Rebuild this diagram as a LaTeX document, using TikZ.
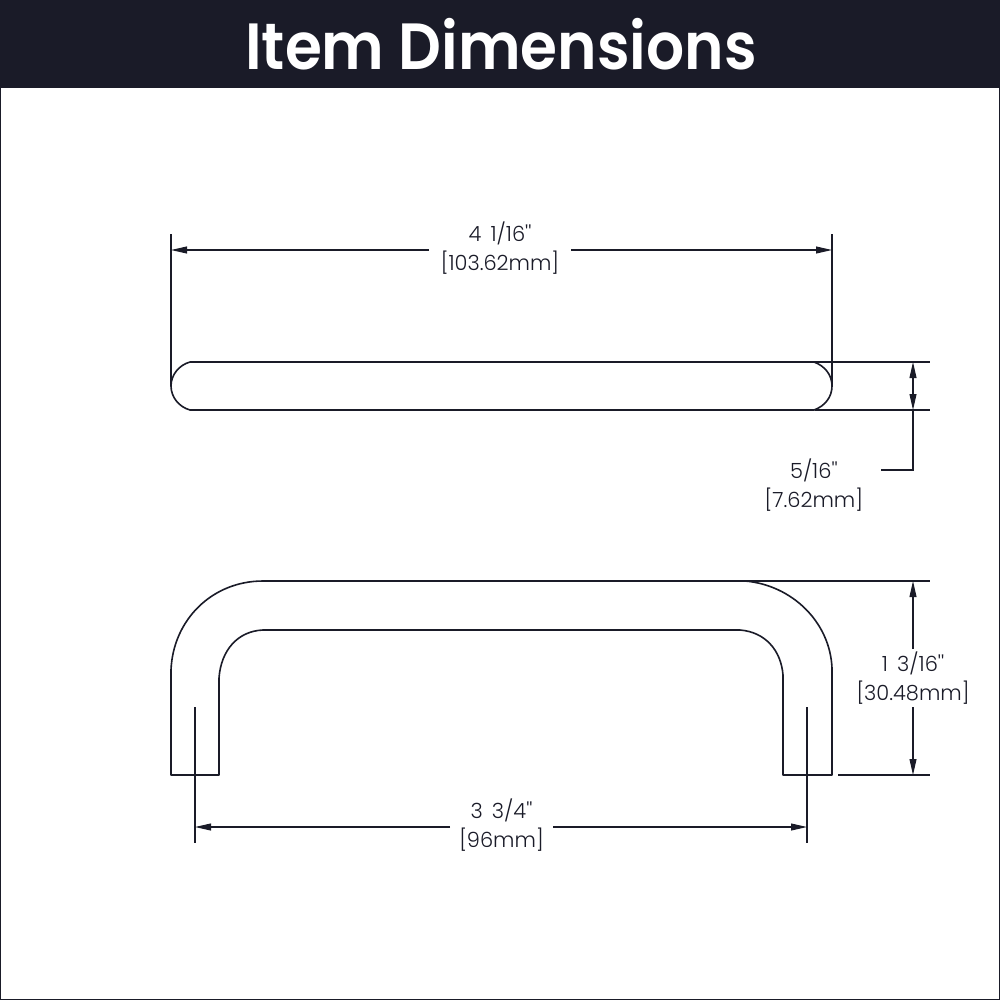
\documentclass[tikz,border=0pt]{standalone}
\usepackage{fontspec}
\newfontfamily\labfont[WordSpace=1.6]{Poppins Light}
\newfontfamily\titlefont{Poppins SemiBold}
\usetikzlibrary{arrows.meta}
\definecolor{ink}{HTML}{1A1B28}
\tikzset{
  part/.style={draw=ink,line width=1.2pt,line join=round},
  ext/.style={draw=ink,line width=0.8pt},
  dim/.style={draw=ink,line width=0.8pt,-{Triangle[length=12pt,width=5.2pt]}},
  lab/.style={align=center,text=ink,font=\labfont\fontsize{15.7}{22}\selectfont,inner sep=0pt,outer sep=0pt}
}
\begin{document}
\begin{tikzpicture}[x=0.75pt,y=-0.75pt]
\useasboundingbox (0,0) rectangle (1000,1000);
\fill[white] (0,0) rectangle (1000,1000);
\draw[ink,line width=0.9pt] (0.5,0.5) rectangle (999.5,999.5);
\fill[ink] (0,0) rectangle (1000,87.5);
\node[text=white,inner sep=0pt,xscale=0.915,font=\titlefont\fontsize{49}{55}\selectfont] (title) at (501,44) {Item Dimensions};
% top view
\draw[part] (190,362) -- (814,362) .. controls (825,366) and (832,375) .. (832,386) .. controls (832,397) and (825,406) .. (814,410) -- (190,410) .. controls (179,407) and (171,397) .. (171,386) .. controls (171,375) and (179,365) .. (190,362) -- cycle;
% front view
\draw[part] (171,775) -- (171,670) .. controls (173,620) and (212,581) .. (263,581) -- (745,581) .. controls (792,585) and (830,622) .. (832,668) -- (832,775) -- (783,775) -- (783,675) .. controls (781,650) and (765,632) .. (740,630) -- (263,630) .. controls (238,631) and (221,650) .. (219,678) -- (219,775) -- cycle;
% labels
\node[lab,minimum width=142*0.75pt] (l1) at (500,248) {4 1/16''\\{}[103.62mm]};
\node[lab,anchor=east] (l2) at (863,485) {5/16''\\{}[7.62mm]};
\node[lab,minimum height=58*0.75pt] (l3) at (913,678) {1 3/16''\\{}[30.48mm]};
\node[lab,minimum width=103*0.75pt] (l4) at (501.5,825) {3 3/4''\\{}[96mm]};
% extension lines
\coordinate (a1) at (171,234); \coordinate (a2) at (171,386);
\coordinate (b1) at (832,234); \coordinate (b2) at (832,386);
\draw[ext] (a1) -- (a2); \draw[ext] (b1) -- (b2);
\coordinate (c1) at (814,362); \coordinate (c2) at (930,362);
\coordinate (d1) at (815,410); \coordinate (d2) at (930,410);
\draw[ext] (c1) -- (c2); \draw[ext] (d1) -- (d2);
\coordinate (e1) at (745,581); \coordinate (e2) at (930,581);
\coordinate (f1) at (838,775); \coordinate (f2) at (930,775);
\draw[ext] (e1) -- (e2); \draw[ext] (f1) -- (f2);
\coordinate (g1) at (195,707); \coordinate (g2) at (195,843);
\coordinate (h1) at (807,707); \coordinate (h2) at (807,843);
\draw[ext] (g1) -- (g2); \draw[ext] (h1) -- (h2);
% dimension lines
\coordinate (p1) at (171,250); \coordinate (p2) at (832,250);
\draw[dim] (l1.west |- p1) -- (p1);
\draw[dim] (l1.east |- p2) -- (p2);
\coordinate (q1) at (913,362); \coordinate (q2) at (913,410); \coordinate (q3) at (913,470); \coordinate (q4) at (881,470); \coordinate (q5) at (913,386);
\draw[ext] (q4) -- (q3) -- (q2);
\draw[dim] (q5) -- (q2);
\draw[dim] (q5) -- (q1);
\coordinate (r1) at (913,581); \coordinate (r2) at (913,775);
\draw[dim] (l3.north -| r1) -- (r1);
\draw[dim] (l3.south -| r2) -- (r2);
\coordinate (s1) at (195,827); \coordinate (s2) at (807,827);
\draw[dim] (l4.west |- s1) -- (s1);
\draw[dim] (l4.east |- s2) -- (s2);
\end{tikzpicture}
\end{document}
